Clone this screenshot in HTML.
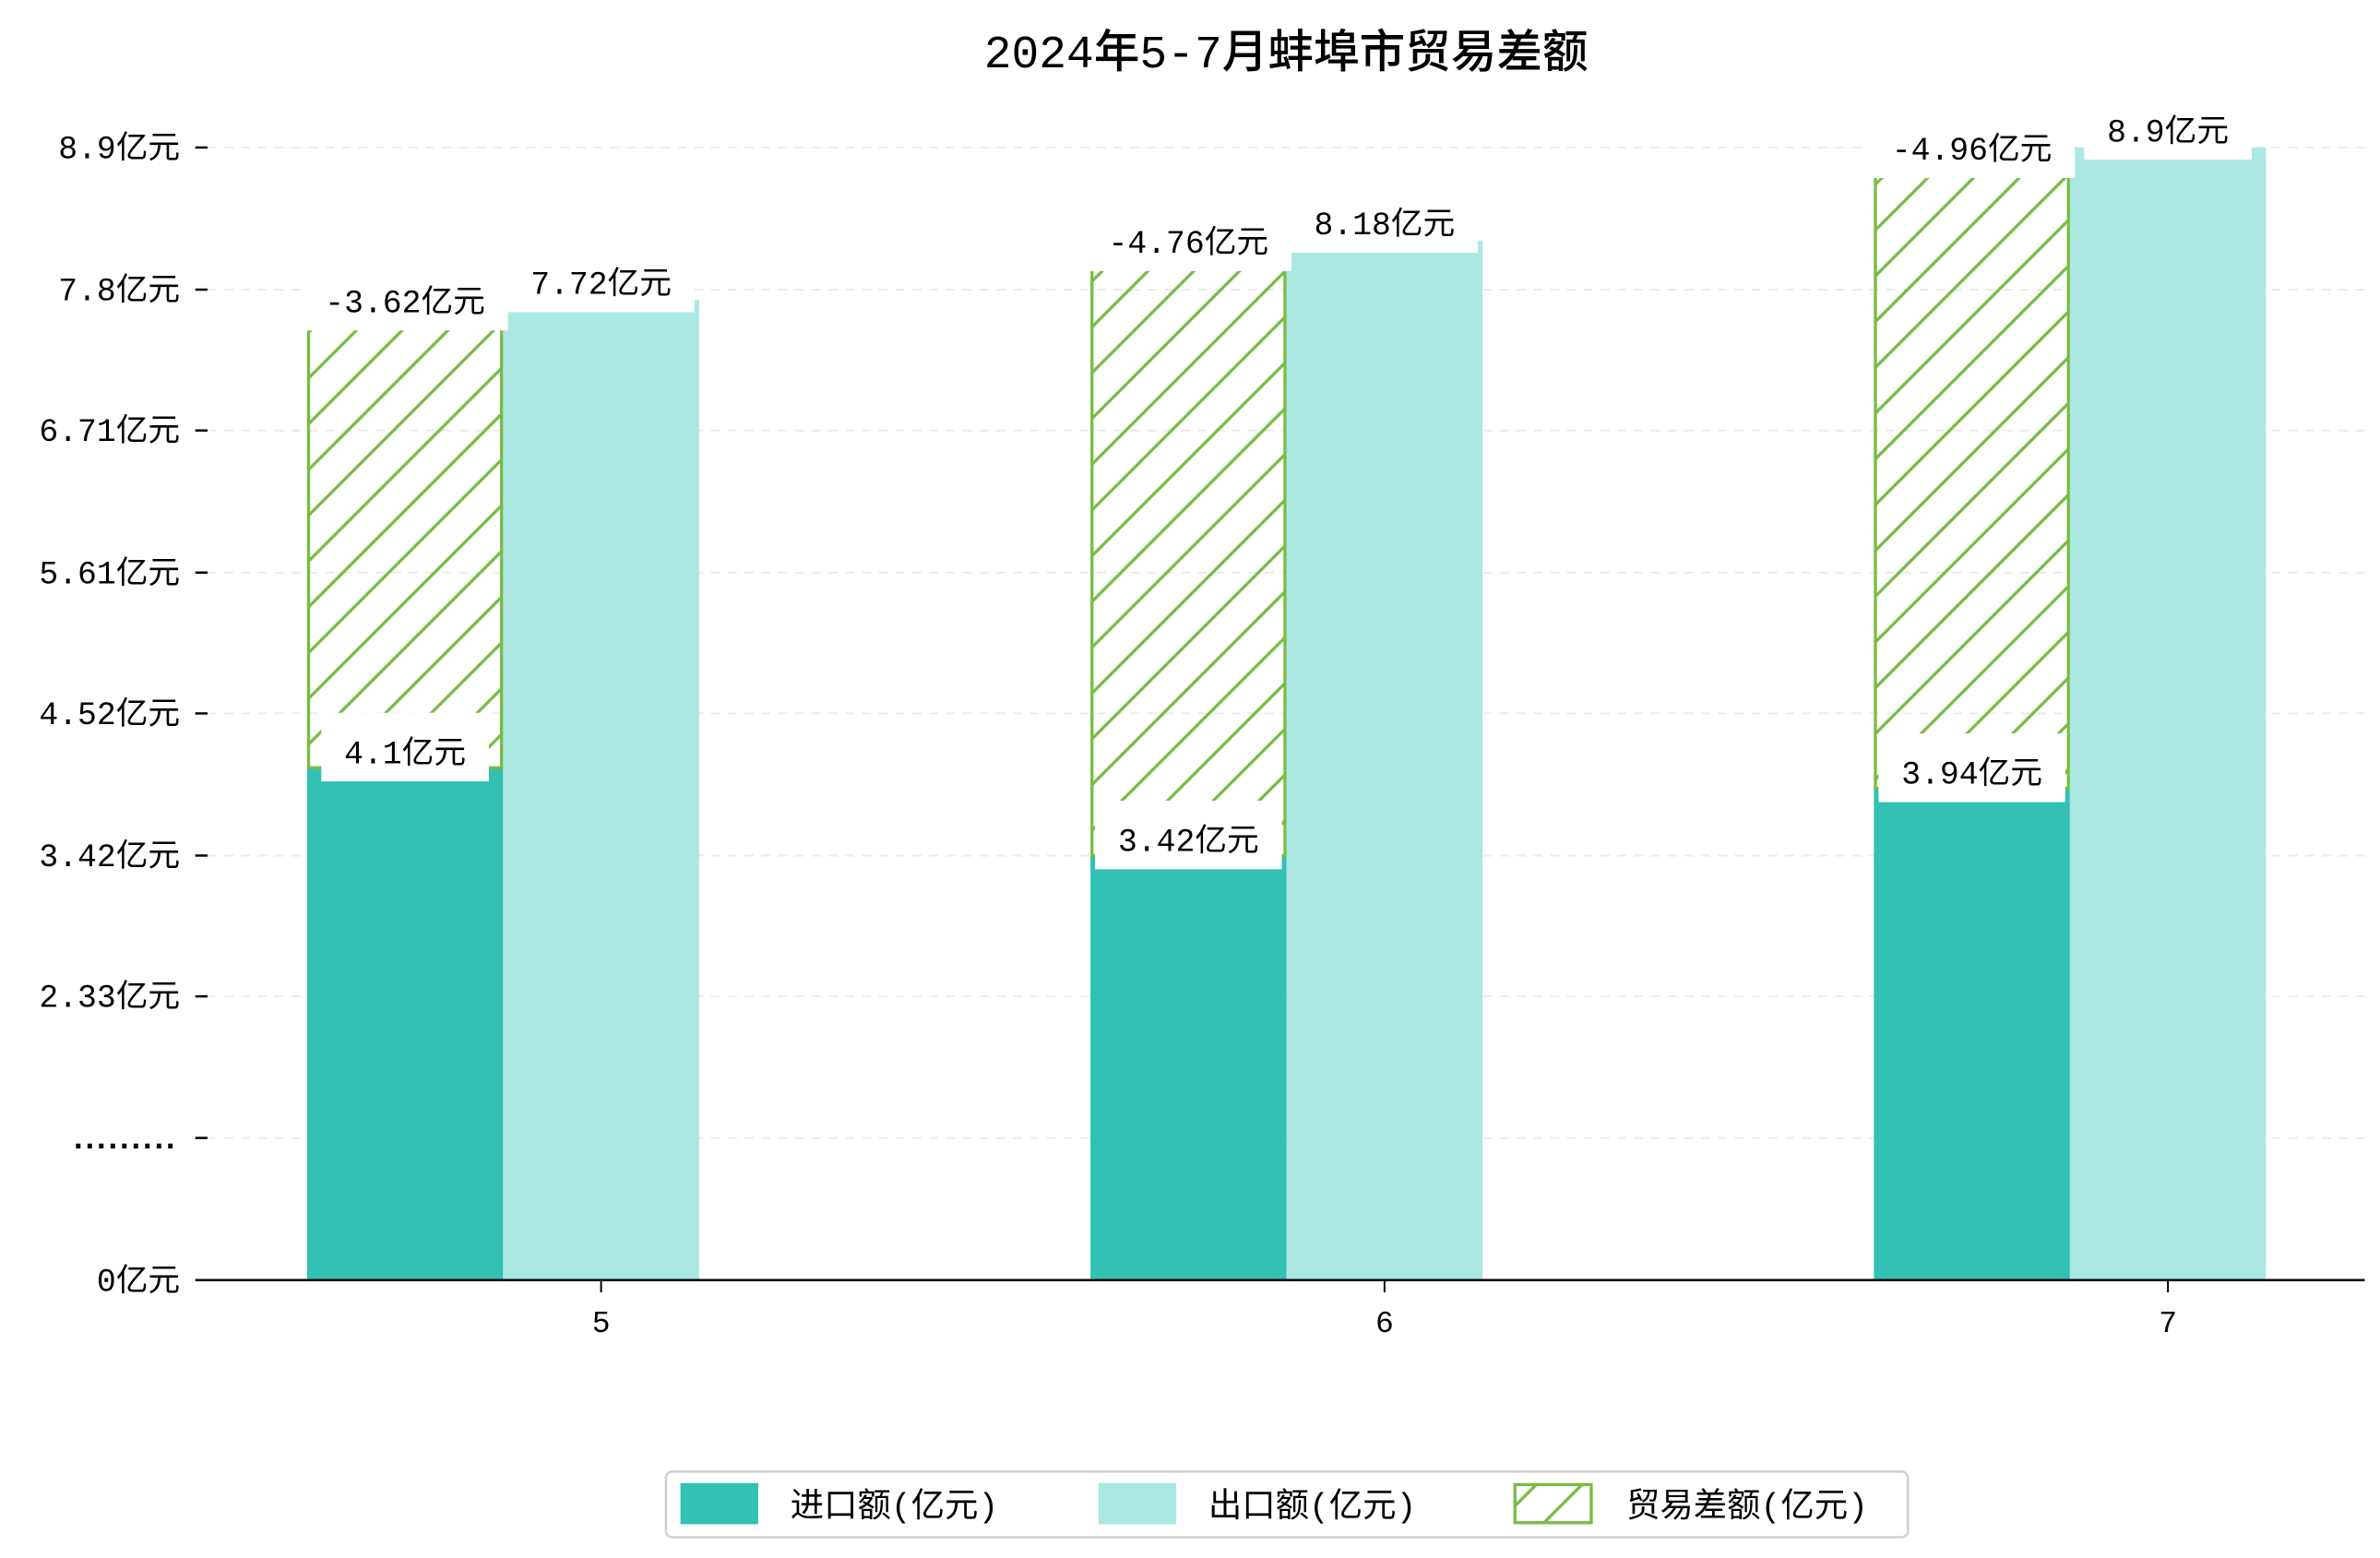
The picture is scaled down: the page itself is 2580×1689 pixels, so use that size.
<!DOCTYPE html>
<html><head><meta charset="utf-8">
<style>
html,body{margin:0;padding:0;background:#fff;}
svg{display:block;}
text{font-family:"Liberation Mono","Noto Sans CJK SC",monospace;fill:#000;}
</style></head>
<body>
<svg id="chart" width="2580" height="1689" viewBox="0 0 1560 1021" xmlns="http://www.w3.org/2000/svg">
<defs>
<pattern id="hatch" patternUnits="userSpaceOnUse" width="30" height="30">
<path d="M-5,35 L35,-5 M-5,5 L5,-5 M25,35 L35,25" stroke="#77bc43" stroke-width="2"/>
</pattern>
</defs>
<text x="843" y="44" font-size="30" text-anchor="middle" font-family="'Noto Sans CJK SC',sans-serif" font-weight="500">2024年5-7月蚌埠市贸易差额</text>
<g id="grid"></g>
<g id="bars"></g>
<g id="labels"></g>
<g id="axes"></g>
<g>
<rect x="436.5" y="964.5" width="814" height="43" rx="4" fill="#fff" stroke="#d0d0d0" stroke-width="1.5"/>
<rect x="446" y="972" width="51" height="27" fill="#32c1b4"/>
<text x="518" y="994" font-size="22">进口额(亿元)</text>
<rect x="720" y="972" width="51" height="27" fill="#abe8e2"/>
<text x="792" y="994" font-size="22">出口额(亿元)</text>
<rect x="993" y="973" width="50" height="25" fill="url(#hatch)" stroke="#77bc43" stroke-width="2"/>
<text x="1066" y="994" font-size="22">贸易差额(亿元)</text>
</g>
</svg>
<script>
const months = ['5','6','7'];
const imports = [4.1, 3.42, 3.94];
const exports_ = [7.72, 8.18, 8.9];
const balance = [-3.62, -4.76, -4.96];
const tickValues = [2.33, 3.42, 4.52, 5.61, 6.71, 7.8, 8.9];
const tickLabels = ['2.33亿元','3.42亿元','4.52亿元','5.61亿元','6.71亿元','7.8亿元','8.9亿元'];

const NS='http://www.w3.org/2000/svg';
const baseY=839, step=92.8, vLow=2.33, vStep=1.0957;
function y(v){ return 653-(v-vLow)/vStep*step; }
function xc(i){ return 394+i*513.5; }
const bw=128.5;
function mk(tag, attrs, parent){
  const el=document.createElementNS(NS,tag);
  for(const k in attrs) el.setAttribute(k,attrs[k]);
  parent.appendChild(el); return el;
}
const grid=document.getElementById('grid'), bars=document.getElementById('bars'),
      labels=document.getElementById('labels'), axes=document.getElementById('axes');

const allTicks = tickValues.map((v,i)=>({y:y(v),t:tickLabels[i]}));
allTicks.push({y:653+step, t:'.........'});
allTicks.push({y:baseY, t:'0亿元'});
allTicks.forEach(tk=>{
  if(tk.y!==baseY){
    const g=mk('line',{x1:136,x2:1550,y1:tk.y,y2:tk.y,stroke:'#ebebeb','stroke-width':1.2,'stroke-dasharray':'6,5'},grid);
    
    
    const tm=mk('line',{x1:128,x2:136,y1:tk.y,y2:tk.y,stroke:'#000','stroke-width':1.5},axes);
    
    
  }
  const attrs={x:118,y:tk.y+7,'font-size':21,'text-anchor':'end'};
  if(tk.t[0]==='.'){ attrs.textLength=73; attrs.lengthAdjust='spacing'; attrs['font-weight']='bold'; }
  const t=mk('text',attrs,axes);
  
  
  t.textContent=tk.t;
});

function label(cx, cyc, txt){
  const nLatin=txt.length-2;
  const w=nLatin*12.6+42+30;
  const r=mk('rect',{x:cx-w/2,y:cyc-25,width:w,height:45,fill:'#fff'},labels);
  
  
  const t=mk('text',{x:cx,y:cyc+8,'font-size':21,'text-anchor':'middle'},labels);
  
  
  t.textContent=txt;
}

months.forEach((m,i)=>{
  const c=xc(i);
  const ix=c-1.5*bw, ex=c-0.5*bw;
  const imTop=y(imports[i]);
  const ib=mk('rect',{x:ix,y:imTop,width:bw,height:baseY-imTop,fill:'#32c1b4'},bars);
  
  
  const exTop=y(exports_[i]);
  const eb=mk('rect',{x:ex,y:exTop,width:bw,height:baseY-exTop,fill:'#abe8e2'},bars);
  
  
  const dTop=y(imports[i]-balance[i]);
  const hb=mk('rect',{x:ix+1,y:dTop,width:bw-2,height:imTop-dTop,fill:'url(#hatch)',stroke:'#77bc43','stroke-width':2},bars);
  
  
  label(ix+bw/2, imTop-11, imports[i]+'亿元');
  label(ex+bw/2, exTop-12, exports_[i]+'亿元');
  label(ix+bw/2, dTop, balance[i]+'亿元');
  const xt=mk('line',{x1:c,x2:c,y1:baseY,y2:baseY+8,stroke:'#000','stroke-width':1.2},axes);
  
  
  const xl=mk('text',{x:c,y:873,'font-size':20,'text-anchor':'middle'},axes);
  
  
  xl.textContent=m;
});
const ax=mk('line',{x1:128,x2:1550,y1:baseY,y2:baseY,stroke:'#000','stroke-width':1.5},axes);


</script>
</body></html>
